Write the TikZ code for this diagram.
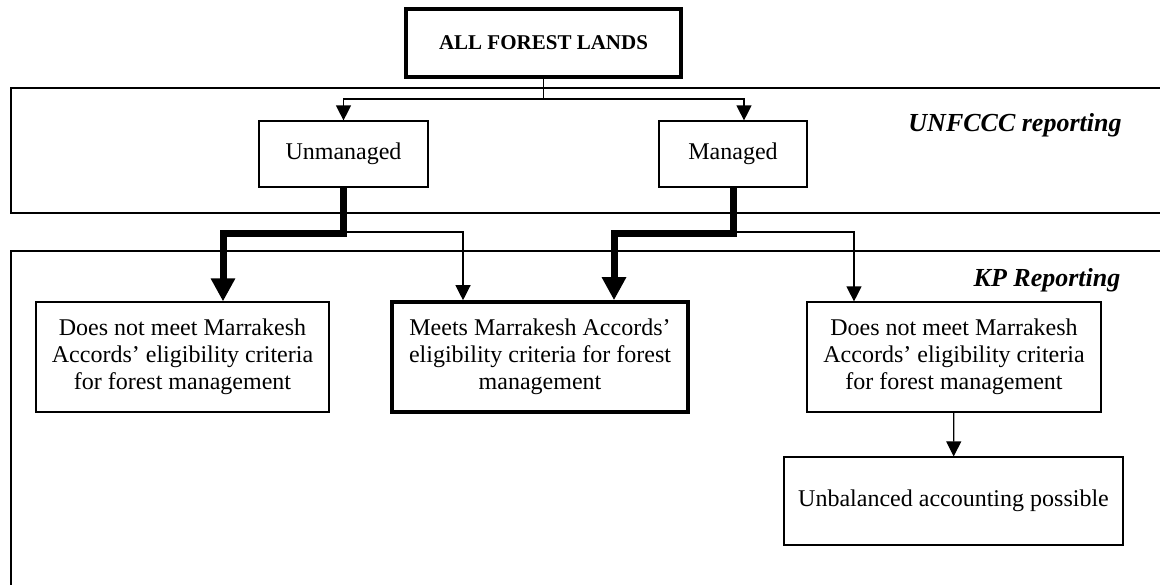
\documentclass[tikz,border=0pt]{standalone}
\usepackage{fontspec}
\setmainfont{Liberation Serif}
\usetikzlibrary{arrows.meta}

\begin{document}
\begin{tikzpicture}[x=0.5pt, y=-0.5pt,
    box/.style = {shape=rectangle, draw, align=center,
      line width=0.6pt, font=\fontsize{12}{13.5}\selectfont},
    heavybox/.style = {box, line width=1.8pt},
    frame/.style = {draw, line width=0.7pt},
    tag/.style = {anchor=base,
      font=\fontsize{13}{15}\selectfont\bfseries\itshape},
    light/.style = {line width=0.6pt,
      -{Triangle[length=7.5pt,width=7.5pt]}},
    heavy/.style = {line width=3.5pt,
      -{Triangle[length=11.5pt,width=11.5pt]}}]
  \clip (0,0) rectangle (1160,584);
  \draw[frame] (11,88) rectangle (1180,213);
  \draw[frame] (11,251) rectangle (1180,620);
  \node[tag] (unfccc) at (1015,131) {UNFCCC reporting};
  \node[tag] (kp) at (1047,286) {KP Reporting};

  \node[heavybox, line width=2.2pt, minimum width=137.5pt, minimum height=34pt,
    font=\fontsize{10.5}{12}\selectfont\bfseries] (all) at (543.5,43) {ALL FOREST LANDS};
  \node[box, minimum width=84.5pt, minimum height=33pt] (unman) at (343.5,154) {Unmanaged};
  \node[box, minimum width=74pt, minimum height=33pt] (man) at (733,154) {Managed};
  \node[box, minimum width=146.5pt, minimum height=55pt] (dnm1) at (182.5,357)
    {Does not meet Marrakesh\\Accords’ eligibility criteria\\for forest management};
  \node[heavybox, minimum width=148pt, minimum height=55pt] (meets) at (540,357)
    {Meets Marrakesh Accords’\\eligibility criteria for forest\\management};
  \node[box, minimum width=147pt, minimum height=55pt] (dnm2) at (954,357)
    {Does not meet Marrakesh\\Accords’ eligibility criteria\\for forest management};
  \node[box, minimum width=169.5pt, minimum height=44pt] (unbal) at (953.5,501)
    {Unbalanced accounting possible};

  \coordinate (fork) at (543.5,99);
  \coordinate (u1) at (223,233);
  \coordinate (u2) at (463,232);
  \coordinate (m1) at (614,233);
  \coordinate (m2) at (854,232);

  \draw[line width=0.6pt] (all.south) -- (fork);
  \draw[light] (fork) -| (unman.north);
  \draw[light] (fork) -| ([xshift=5.5pt]man.north);
  \draw[light] (unman.south) |- (u2) -- (u2 |- meets.north);
  \draw[light] (man.south) |- (m2) -- (m2 |- dnm2.north);
  \draw[heavy] (unman.south) |- (u1) -- (u1 |- dnm1.north);
  \draw[heavy] (man.south) |- (m1) -- (m1 |- meets.north);
  \draw[light] (dnm2) -- (unbal);
\end{tikzpicture}
\end{document}
